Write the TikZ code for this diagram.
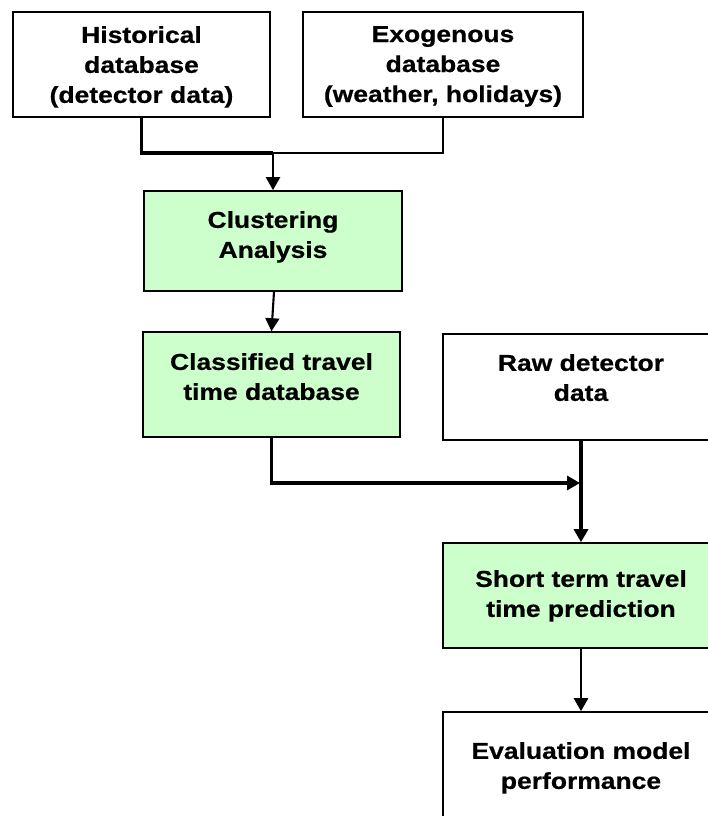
\documentclass[tikz,border=0pt]{standalone}
\usepackage{fontspec}
\setmainfont{Liberation Sans}[FakeStretch=1.15, BoldFeatures={FakeBold=0.6}]
\usetikzlibrary{arrows.meta,calc}
\definecolor{boxgreen}{RGB}{204,255,204}

\begin{document}
\begin{tikzpicture}[x=1pt,y=-1pt,
  box/.style={draw=black, line width=1.6pt, rectangle, inner sep=0pt},
  greenbox/.style={box, fill=boxgreen},
  boxtext/.style={inner sep=0pt, anchor=north, align=center,
    font=\fontsize{23}{30}\selectfont\bfseries},
  link/.style={line width=2.1pt},
  heavy/.style={line width=3.2pt},
  tip/.style={-{Triangle[width=14pt,length=13pt]}}
]
\useasboundingbox (0,0) rectangle (708,816);
\fill[white] (0,0) rectangle (708,816);
\clip (0,0) rectangle (708,816);

% boxes
\node[box, minimum width=257pt, minimum height=105pt] (hist) at (141.5,64.5) {};
\node[box, minimum width=280pt, minimum height=105pt] (exo) at (443,64.5) {};
\node[greenbox, minimum width=258pt, minimum height=100pt] (clu) at (273,241) {};
\node[greenbox, minimum width=257pt, minimum height=105pt] (cls) at (271.5,384.5) {};
\node[box, minimum width=276pt, minimum height=106pt] (raw) at (581,387) {};
\node[greenbox, minimum width=276pt, minimum height=105pt] (stp) at (581,595.5) {};
\node[box, minimum width=276pt, minimum height=106pt] (eva) at (581,765) {};

% box texts
\node[boxtext] (histT) at (141.5,26) {Historical\\database\\(detector data)};
\node[boxtext] (exoT) at (443,26) {Exogenous\\database\\(weather, holidays)};
\node[boxtext] (cluT) at (273,211) {Clustering\\Analysis};
\node[boxtext] (clsT) at (271.5,353) {Classified travel\\time database};
\node[boxtext] (rawT) at (581,354) {Raw detector\\data};
\node[boxtext] (stpT) at (581,570) {Short term travel\\time prediction};
\node[boxtext] (evaT) at (581,742) {Evaluation model\\performance};

% connectors
\coordinate (j) at (273,153);
\coordinate (k) at (580,483);
\draw[heavy] (hist.south) -- (hist.south |- j) -- (j);
\draw[link] (j) -- (j -| exo.south) -- (exo.south);
\draw[link,tip] (j) -- (clu.north);
\draw[link,tip] ($(clu.south)+(1,0)$) -- (cls.north);
\draw[heavy,tip] (cls.south) -- (cls.south |- k) -- (k);
\draw[heavy,tip] (raw.south) -- (stp.north);
\draw[line width=2.6pt,tip] (stp.south) -- (eva.north);
\end{tikzpicture}
\end{document}
